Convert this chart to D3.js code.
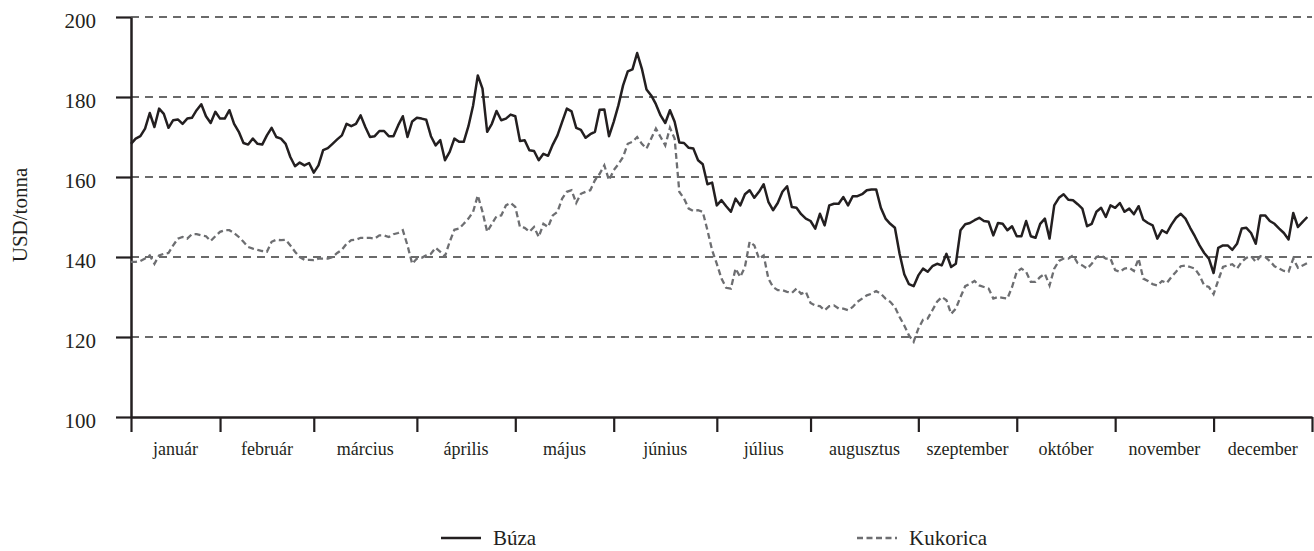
<!DOCTYPE html>
<html>
<head>
<meta charset="utf-8">
<script src="https://cdn.jsdelivr.net/npm/d3@7"></script>
<style>
  body { margin: 0; background: #fff; }
  svg { display: block; font-family: "Liberation Serif", "Times New Roman", serif; }
</style>
</head>
<body>
<div class="chart"></div>
<script>
// Month labels and the number of trading days in each month
const monthNames = ["január", "február", "március", "április", "május", "június",
  "július", "augusztus", "szeptember", "október", "november", "december"];
const monthTradingDays = [19, 20, 22, 21, 21, 22, 20, 23, 21, 21, 21, 21];
const yTicks = [100, 120, 140, 160, 180, 200];

// Daily prices, USD/tonna
const buzaPrices = [
  168.3,169.6,170.2,172.1,176.0,172.5,177.1,175.8,172.3,174.2,174.4,173.3,174.6,174.8,176.7,178.2,175.2,173.5,176.3,174.6,
  174.6,176.7,173.3,171.3,168.5,168.1,169.6,168.3,168.1,170.4,172.3,170.0,169.6,168.3,165.0,162.7,163.6,162.9,163.5,161.1,
  162.9,166.7,
  167.2,168.3,169.4,170.4,173.3,172.7,173.3,175.4,172.5,170.0,170.2,171.5,171.5,170.2,170.2,172.9,175.2,170.0,173.9,174.8,
  174.6,174.3,170.2,167.9,169.2,164.2,166.3,169.6,168.8,168.8,172.7,177.9,185.4,182.1,171.3,173.3,176.5,174.2,174.6,175.6,
  175.2,169.0,
  169.2,166.7,166.5,164.2,165.8,165.3,168.1,170.4,173.8,177.1,176.4,172.3,171.8,169.8,170.7,171.3,176.8,176.9,170.2,173.8,
  177.9,182.9,186.4,186.9,191.0,187.1,181.9,180.4,178.2,175.4,173.5,176.7,173.8,168.6,168.5,167.3,167.1,164.2,163.2,158.2,
  158.6,152.9,154.2,
  152.7,151.3,154.6,152.9,155.7,156.7,154.8,156.3,158.2,153.8,151.7,153.5,156.3,157.7,152.5,152.3,150.7,149.6,149.0,147.1,
  150.8,147.9,152.9,153.3,153.3,155.0,152.9,155.2,155.2,155.7,156.7,156.9,156.9,152.3,149.6,148.3,147.3,140.8,135.7,133.2,
  132.7,135.4,137.1,
  136.3,137.7,138.3,137.9,140.8,137.5,138.3,146.7,148.2,148.5,149.2,149.8,149.0,148.8,145.4,148.5,148.3,146.7,147.7,145.2,
  145.2,149.0,145.2,144.8,148.3,149.6,144.6,152.9,154.8,155.7,154.3,154.2,153.2,152.1,147.7,148.3,151.3,152.3,150.0,152.9,
  152.3,153.5,
  151.3,152.1,150.7,152.7,149.3,148.5,147.9,144.6,146.7,146.0,148.1,149.8,150.8,149.6,147.3,145.2,142.9,141.0,139.6,136.0,
  142.3,142.9,142.9,141.8,143.3,147.1,147.3,146.0,143.3,150.4,150.4,149.0,148.3,147.1,146.0,144.4,151.0,147.5,148.8,150.0
];

const kukoricaPrices = [
  138.8,138.8,139.0,139.6,140.4,138.3,140.4,140.8,141.0,142.9,144.6,145.0,144.6,145.7,145.7,145.4,145.2,144.0,145.2,146.3,
  146.7,146.7,146.0,145.0,143.8,142.5,142.1,141.8,141.5,141.3,143.8,144.3,144.2,144.3,142.9,141.3,140.0,139.3,139.3,139.2,
  139.6,139.6,
  139.6,140.0,141.0,141.8,143.3,144.2,144.3,144.8,144.8,144.8,144.6,145.4,145.4,145.0,145.7,146.0,146.7,142.9,138.3,139.6,
  139.8,140.4,140.8,142.3,141.3,140.2,143.8,146.8,147.1,148.3,149.6,151.3,155.4,151.3,146.3,148.3,150.2,150.4,152.9,153.5,
  152.5,147.5,
  147.3,146.3,147.5,145.0,148.3,147.5,150.4,151.3,154.6,156.3,156.7,153.5,155.8,156.3,156.7,159.2,160.8,162.9,159.2,161.7,
  163.2,165.0,168.3,168.8,170.0,168.3,167.1,169.6,172.1,170.0,167.9,172.3,169.6,156.3,154.6,152.1,151.5,151.7,151.3,146.7,
  141.7,138.3,134.6,
  132.3,132.1,137.1,135.0,137.5,143.8,142.9,139.6,140.4,134.6,132.5,131.7,131.7,131.3,131.0,132.1,130.8,131.3,128.5,127.9,
  127.7,126.7,127.7,127.9,127.1,127.1,126.7,127.5,128.8,129.6,130.4,130.8,131.5,130.8,129.6,128.8,127.5,125.0,122.9,120.4,
  118.8,122.1,124.3,
  124.6,126.7,128.8,130.0,129.2,125.8,127.1,130.0,132.7,133.3,134.0,132.9,132.5,132.1,129.6,130.0,129.8,129.6,132.5,136.3,
  137.1,136.3,133.8,133.8,135.0,135.8,132.9,137.1,139.0,139.6,139.6,140.4,138.5,137.9,137.1,138.3,140.0,140.4,139.6,139.6,
  136.7,136.3,
  137.1,137.3,136.5,139.6,134.6,134.0,133.2,132.9,134.0,133.5,135.0,136.3,137.7,137.9,137.5,137.1,135.4,132.9,132.5,130.7,
  134.2,137.5,137.9,138.2,137.1,138.8,139.8,140.2,138.8,140.2,140.0,139.0,137.7,137.1,136.5,136.3,139.6,137.3,137.9,138.5
];

// Set the dimensions and margins of the graph
const margin = { top: 17, right: 2, bottom: 134, left: 131 },
  width = 1314 - margin.left - margin.right,
  height = 551 - margin.top - margin.bottom;

const svg = d3.select(".chart")
  .append("svg")
  .attr("width", width + margin.left + margin.right)
  .attr("height", height + margin.top + margin.bottom)
  .append("g")
  .attr("transform", "translate(" + margin.left + "," + margin.top + ")");

const totalDays = d3.sum(monthTradingDays);
const monthEdges = [0].concat(Array.from(d3.cumsum(monthTradingDays)));

const x = d3.scaleLinear().domain([0, totalDays]).range([0, width]);
const y = d3.scaleLinear().domain([100, 200]).range([height, 0]);

// dashed horizontal grid
svg.append("g")
  .selectAll("line")
  .data(yTicks.filter(function (d) { return d > 100; }))
  .enter()
  .append("line")
  .attr("x1", 0)
  .attr("x2", width)
  .attr("y1", function (d) { return y(d); })
  .attr("y2", function (d) { return y(d); })
  .attr("stroke", "#3a3a3a")
  .attr("stroke-width", 1.4)
  .attr("stroke-dasharray", "8,6");

// y axis with ticks to the left
const yAxis = svg.append("g")
  .call(d3.axisLeft(y).tickValues(yTicks).tickSize(15).tickPadding(20).tickSizeOuter(0));
yAxis.select(".domain").attr("stroke", "#231f20").attr("stroke-width", 2.5);
yAxis.selectAll(".tick line").attr("stroke", "#231f20").attr("stroke-width", 2.2);
yAxis.selectAll(".tick text")
  .attr("dy", "0.5em")
  .attr("fill", "#231f20")
  .style("font-size", "21px")
  .style("font-family", "'Liberation Serif', serif");

// x axis: ticks on the month boundaries, labels in the middle
const xAxis = svg.append("g")
  .attr("transform", "translate(0," + height + ")")
  .call(d3.axisBottom(x).tickValues(monthEdges).tickSize(15).tickFormat("").tickSizeOuter(0));
xAxis.select(".domain").attr("stroke", "#231f20").attr("stroke-width", 2.5);
xAxis.selectAll(".tick line").attr("stroke", "#231f20").attr("stroke-width", 2.2);

svg.append("g")
  .selectAll("text")
  .data(monthNames)
  .enter()
  .append("text")
  .attr("x", function (d, i) { return x((monthEdges[i] + monthEdges[i + 1]) / 2); })
  .attr("y", height + 38)
  .attr("text-anchor", "middle")
  .attr("fill", "#231f20")
  .style("font-size", "18px")
  .text(function (d) { return d; });

// y axis title
svg.append("text")
  .attr("transform", "rotate(-90)")
  .attr("x", -(y(140) + y(160)) / 2 + 2)
  .attr("y", -104)
  .attr("text-anchor", "middle")
  .attr("fill", "#231f20")
  .style("font-size", "21px")
  .text("USD/tonna");

// price lines
const line = d3.line()
  .x(function (d, i) { return x(i); })
  .y(function (d) { return y(d); });

svg.append("path")
  .datum(kukoricaPrices)
  .attr("fill", "none")
  .attr("stroke", "#6d6e71")
  .attr("stroke-width", 2.3)
  .attr("stroke-dasharray", "6,3.5")
  .attr("d", line);

svg.append("path")
  .datum(buzaPrices)
  .attr("fill", "none")
  .attr("stroke", "#231f20")
  .attr("stroke-width", 2.5)
  .attr("stroke-linejoin", "round")
  .attr("d", line);

// legend
const legendData = [
  { label: "Búza", color: "#231f20", dash: null, x: 441 },
  { label: "Kukorica", color: "#6d6e71", dash: "6,3.5", x: 857 }
];

const legend = svg.append("g")
  .attr("transform", "translate(" + (-margin.left) + "," + (-margin.top) + ")");

const items = legend.selectAll(".legend-item")
  .data(legendData)
  .enter()
  .append("g")
  .attr("class", "legend-item")
  .attr("transform", function (d) { return "translate(" + d.x + ",538)"; });

items.append("line")
  .attr("x1", 0)
  .attr("x2", 40)
  .attr("stroke", function (d) { return d.color; })
  .attr("stroke-width", 2.5)
  .attr("stroke-dasharray", function (d) { return d.dash; });

items.append("text")
  .attr("x", 52)
  .attr("y", 7)
  .attr("fill", "#231f20")
  .style("font-size", "21px")
  .text(function (d) { return d.label; });
</script>
</body>
</html>
